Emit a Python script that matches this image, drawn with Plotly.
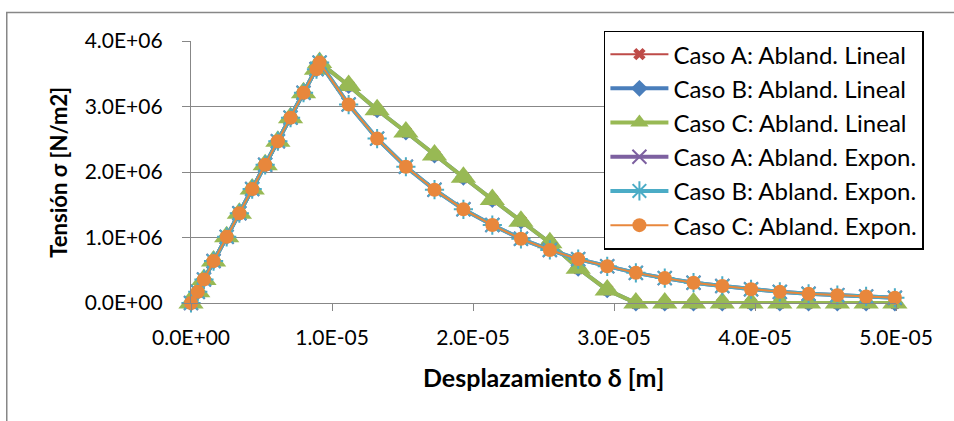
import plotly.graph_objects as go

# ---------------- data ----------------
desplazamiento = [0.0, 0.048e-5, 0.092e-5, 0.160e-5, 0.253e-5, 0.343e-5, 0.434e-5,
                  0.526e-5, 0.616e-5, 0.706e-5, 0.798e-5, 0.890e-5, 0.912e-5,
                  1.118e-5, 1.320e-5, 1.524e-5, 1.727e-5, 1.932e-5, 2.137e-5,
                  2.340e-5, 2.545e-5, 2.746e-5, 2.952e-5, 3.155e-5, 3.360e-5,
                  3.564e-5, 3.768e-5, 3.972e-5, 4.176e-5, 4.380e-5, 4.584e-5,
                  4.788e-5, 4.992e-5]

tension_A_lineal = [0.0, 0.17e6, 0.36e6, 0.64e6, 1.01e6, 1.37e6, 1.74e6, 2.11e6, 2.47e6,
                    2.83e6, 3.21e6, 3.57e6, 3.67e6,
                    3.32e6, 2.95e6, 2.61e6, 2.26e6, 1.92e6, 1.58e6, 1.25e6, 0.92e6,
                    0.53e6, 0.20e6, 0.0, 0.0, 0.0, 0.0, 0.0, 0.0, 0.0, 0.0, 0.0, 0.0]
tension_B_lineal = [0.0, 0.17e6, 0.36e6, 0.64e6, 1.01e6, 1.37e6, 1.74e6, 2.11e6, 2.47e6,
                    2.83e6, 3.21e6, 3.57e6, 3.67e6,
                    3.32e6, 2.95e6, 2.61e6, 2.26e6, 1.92e6, 1.58e6, 1.25e6, 0.92e6,
                    0.53e6, 0.20e6, 0.0, 0.0, 0.0, 0.0, 0.0, 0.0, 0.0, 0.0, 0.0, 0.0]
tension_C_lineal = [0.0, 0.17e6, 0.36e6, 0.64e6, 1.01e6, 1.37e6, 1.74e6, 2.11e6, 2.47e6,
                    2.83e6, 3.21e6, 3.57e6, 3.67e6,
                    3.32e6, 2.95e6, 2.61e6, 2.26e6, 1.92e6, 1.58e6, 1.25e6, 0.92e6,
                    0.53e6, 0.20e6, 0.0, 0.0, 0.0, 0.0, 0.0, 0.0, 0.0, 0.0, 0.0, 0.0]
tension_A_expon = [0.0, 0.17e6, 0.36e6, 0.64e6, 1.01e6, 1.37e6, 1.74e6, 2.11e6, 2.47e6,
                   2.83e6, 3.21e6, 3.57e6, 3.67e6,
                   3.03e6, 2.51e6, 2.08e6, 1.73e6, 1.43e6, 1.19e6, 0.98e6, 0.81e6,
                   0.67e6, 0.56e6, 0.46e6, 0.38e6, 0.31e6, 0.26e6, 0.21e6, 0.17e6,
                   0.14e6, 0.12e6, 0.10e6, 0.08e6]
tension_B_expon = [0.0, 0.17e6, 0.36e6, 0.64e6, 1.01e6, 1.37e6, 1.74e6, 2.11e6, 2.47e6,
                   2.83e6, 3.21e6, 3.57e6, 3.67e6,
                   3.03e6, 2.51e6, 2.08e6, 1.73e6, 1.43e6, 1.19e6, 0.98e6, 0.81e6,
                   0.67e6, 0.56e6, 0.46e6, 0.38e6, 0.31e6, 0.26e6, 0.21e6, 0.17e6,
                   0.14e6, 0.12e6, 0.10e6, 0.08e6]
tension_C_expon = [0.0, 0.17e6, 0.36e6, 0.64e6, 1.01e6, 1.37e6, 1.74e6, 2.11e6, 2.47e6,
                   2.83e6, 3.21e6, 3.57e6, 3.67e6,
                   3.03e6, 2.51e6, 2.08e6, 1.73e6, 1.43e6, 1.19e6, 0.98e6, 0.81e6,
                   0.67e6, 0.56e6, 0.46e6, 0.38e6, 0.31e6, 0.26e6, 0.21e6, 0.17e6,
                   0.14e6, 0.12e6, 0.10e6, 0.08e6]

series_names = ["Caso A: Abland. Lineal", "Caso B: Abland. Lineal", "Caso C: Abland. Lineal",
                "Caso A: Abland. Expon.", "Caso B: Abland. Expon.", "Caso C: Abland. Expon."]

x_tick_values = [0.0, 1e-5, 2e-5, 3e-5, 4e-5, 5e-5]
x_tick_labels = ["0.0E+00", "1.0E-05", "2.0E-05", "3.0E-05", "4.0E-05", "5.0E-05"]
y_tick_values = [0.0, 1e6, 2e6, 3e6, 4e6]
y_tick_labels = ["0.0E+00", "1.0E+06", "2.0E+06", "3.0E+06", "4.0E+06"]

x_title = "Desplazamiento δ [m]"
y_title = "Tensión σ [N/m2]"

# ---------------- layout geometry ----------------
W, H = 954, 421
L, R = 190.5, 896.5        # plot area left/right in px
T, B = 40.5, 303.5         # plot area top/bottom in px
PW, PH = R - L, B - T


def px_x(p):
    return (p - L) / PW


def px_y(p):
    return (B - p) / PH


FONT = "Lato, 'Open Sans', sans-serif"
GRID = "#878787"

styles = [
    dict(line=dict(color="#BE4B48", width=2),
         marker=dict(symbol="x", size=11, color="#BE4B48", line=dict(width=0))),
    dict(line=dict(color="#4A7EBB", width=4),
         marker=dict(symbol="diamond", size=13, color="#4A7EBB", line=dict(width=0))),
    dict(line=dict(color="#98B954", width=4),
         marker=dict(symbol="triangle-up", size=22, color="#98B954", line=dict(width=0))),
    dict(line=dict(color="#7D60A0", width=4),
         marker=dict(symbol="x-thin-open", size=14, color="#7D60A0", line=dict(width=2, color="#7D60A0"))),
    dict(line=dict(color="#4BACC6", width=4),
         marker=dict(symbol="asterisk-open", size=16, color="#4BACC6", line=dict(width=2, color="#4BACC6"))),
    dict(line=dict(color="#E8873C", width=2),
         marker=dict(symbol="circle", size=14, color="#E8873C", line=dict(width=0))),
]

all_tension = [tension_A_lineal, tension_B_lineal, tension_C_lineal,
               tension_A_expon, tension_B_expon, tension_C_expon]

fig = go.Figure()
for name, ys, st in zip(series_names, all_tension, styles):
    fig.add_trace(go.Scatter(x=desplazamiento, y=ys, name=name, mode="lines+markers",
                             line=st["line"], marker=st["marker"], cliponaxis=False))

fig.update_layout(
    width=W, height=H,
    margin=dict(l=L, r=W - R, t=T, b=H - B, pad=0),
    paper_bgcolor="white", plot_bgcolor="white",
    font=dict(family=FONT, size=21, color="black"),
    showlegend=True,
    legend=dict(x=px_x(604), y=px_y(30), xanchor="left", yanchor="top",
                bgcolor="white", bordercolor="black", borderwidth=1.5,
                font=dict(family=FONT, size=24, color="black"),
                itemwidth=58, tracegroupgap=0, maxheight=400),
    xaxis=dict(range=[0, 5e-5], tickvals=x_tick_values, ticktext=x_tick_labels,
               showgrid=False, zeroline=False, showline=True, linecolor=GRID, linewidth=1.3,
               ticks="outside", ticklen=7, tickcolor=GRID, tickwidth=1.3,
               ticklabelstandoff=9, tickfont=dict(size=21)),
    yaxis=dict(range=[0, 4e6], tickvals=y_tick_values, ticktext=y_tick_labels,
               showgrid=True, gridcolor=GRID, gridwidth=1.3, zeroline=False,
               showline=True, linecolor=GRID, linewidth=1.3,
               ticks="outside", ticklen=8, tickcolor=GRID, tickwidth=1.3,
               ticklabelstandoff=15, tickfont=dict(size=21)),
    shapes=[dict(type="rect", xref="paper", yref="paper",
                 x0=px_x(6), x1=px_x(1100), y0=px_y(12), y1=px_y(600),
                 line=dict(color=GRID, width=1.5), fillcolor="rgba(0,0,0,0)", layer="below")],
    annotations=[
        dict(text="<b>%s</b>" % x_title, xref="paper", yref="paper",
             x=px_x(543), y=px_y(378), xanchor="center", yanchor="middle",
             showarrow=False, font=dict(family=FONT, size=25)),
        dict(text="<b>%s</b>" % y_title, xref="paper", yref="paper",
             x=px_x(57), y=px_y(172), xanchor="center", yanchor="middle", textangle=-90,
             showarrow=False, font=dict(family=FONT, size=22)),
    ],
)

fig.write_html("out.html", config={"displayModeBar": False},
               post_script="document.body.style.margin='0';document.body.style.overflow='hidden';")
